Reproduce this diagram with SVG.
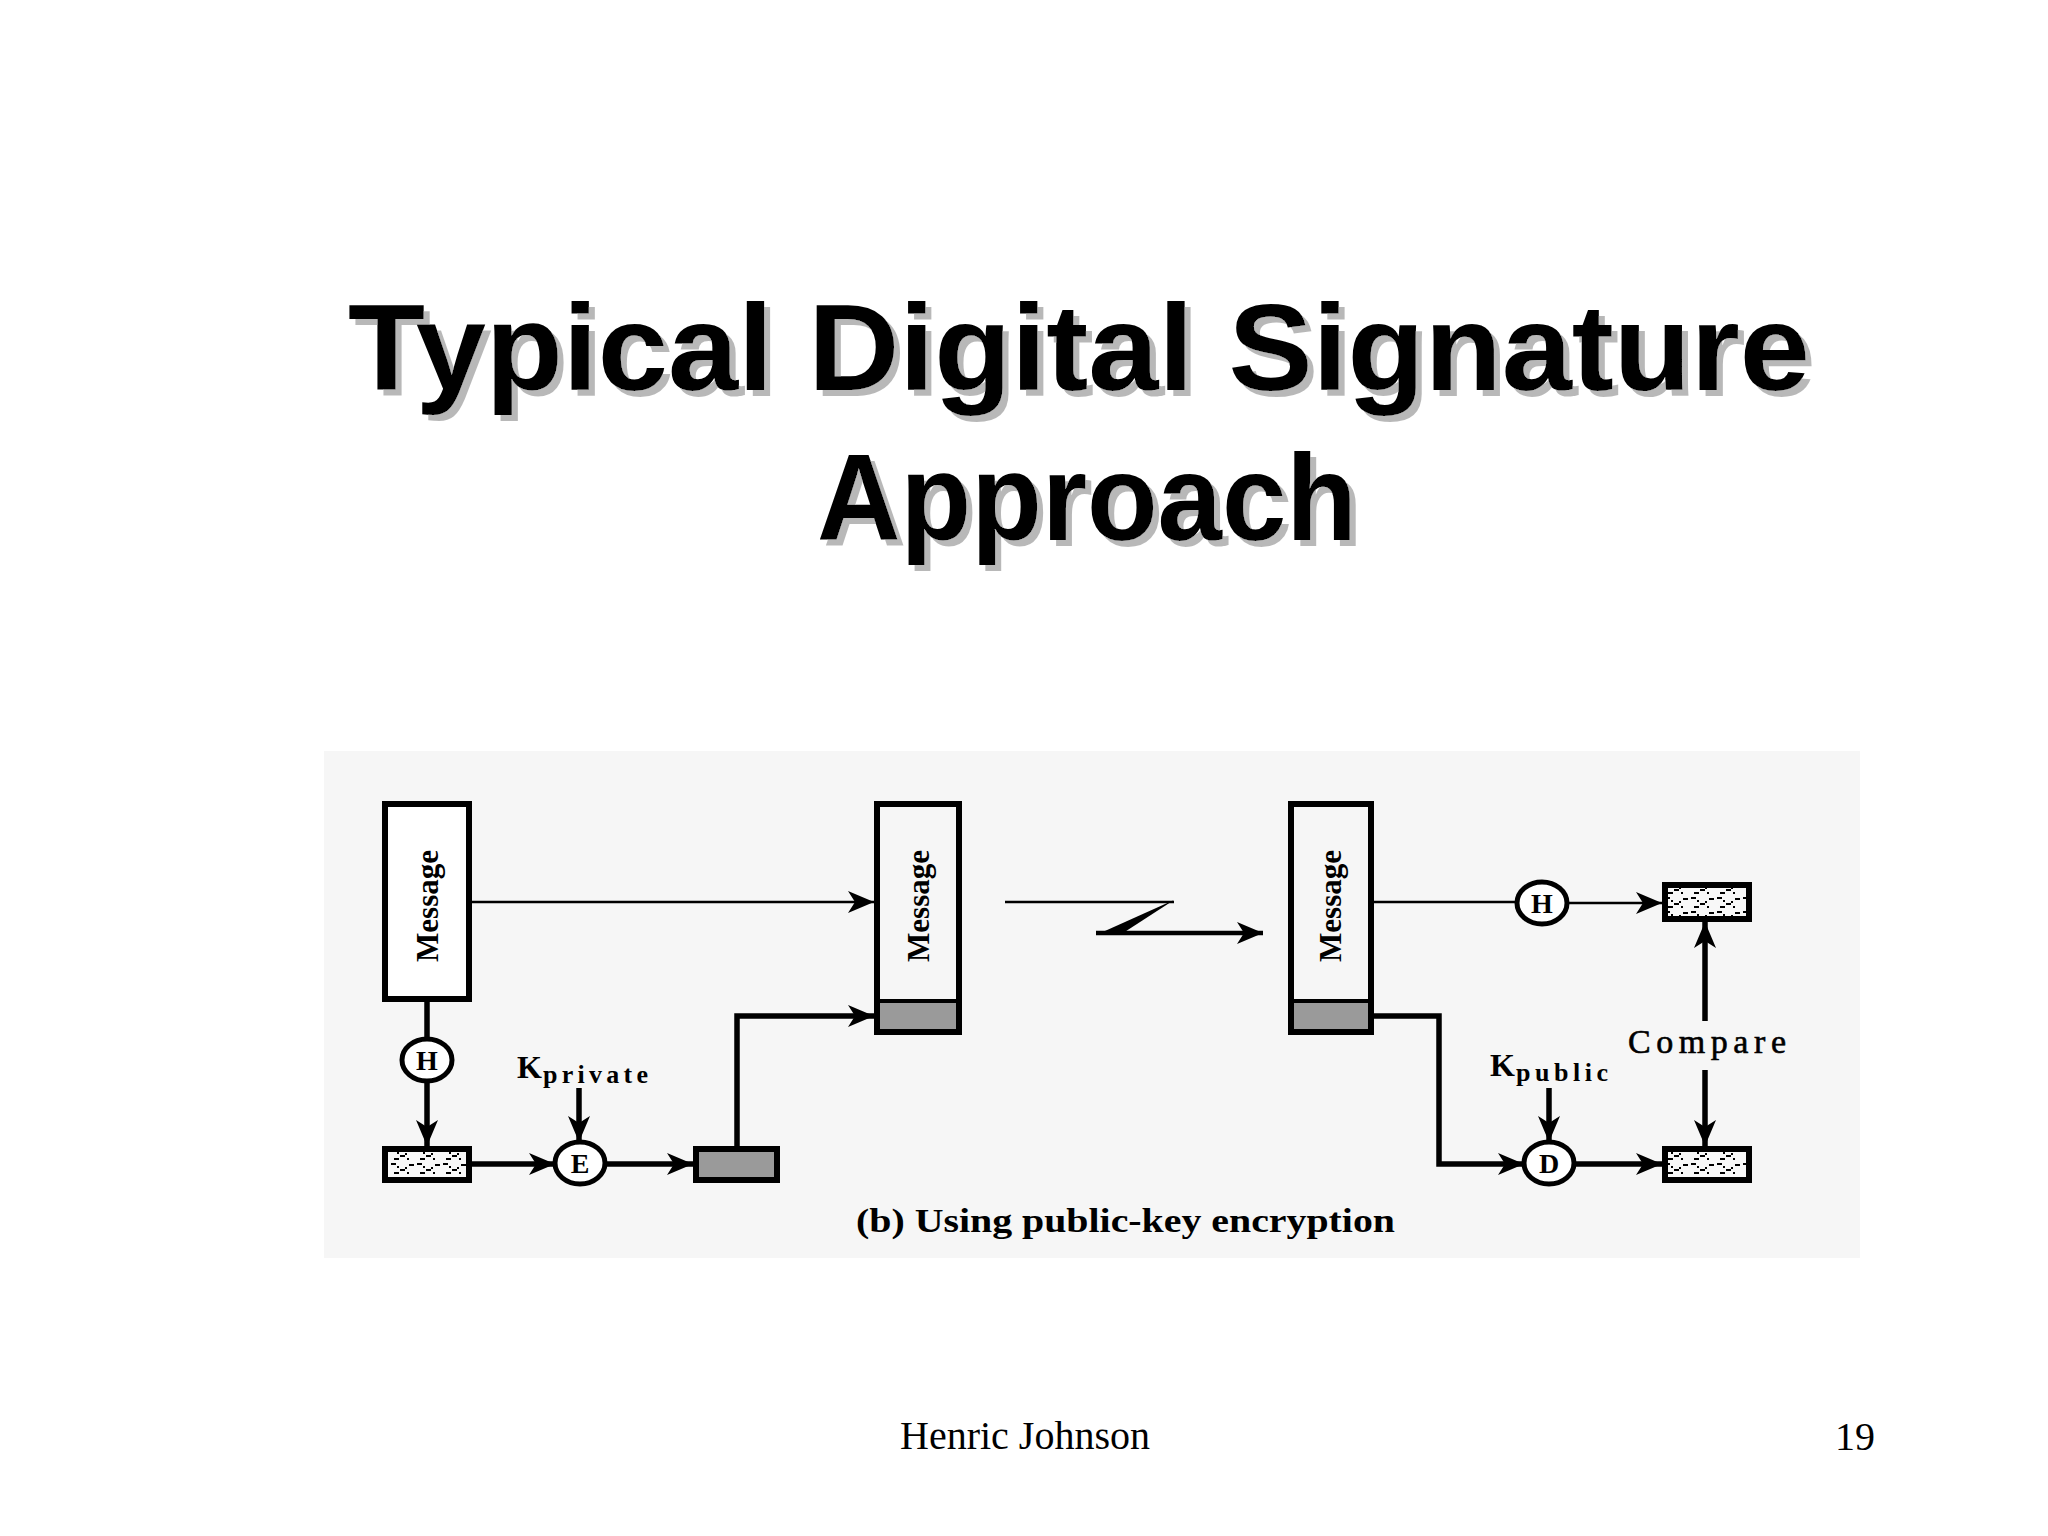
<svg xmlns="http://www.w3.org/2000/svg" width="2048" height="1536" viewBox="0 0 2048 1536">
<style>
.title{font-family:"Comic Sans MS","Liberation Sans",sans-serif;font-weight:bold;font-size:123px;fill:#000}
.box{fill:#fff;stroke:#000;stroke-width:6}
.gray{fill:#9a9a9a;stroke:#000;stroke-width:6}
.hash{fill:url(#hatch);stroke:#000;stroke-width:6}
.op{fill:#fff;stroke:#000;stroke-width:5}
.lbl{font-family:"Liberation Serif","Times New Roman",serif;font-weight:bold;fill:#000}
.thin{fill:none;stroke:#000;stroke-width:2.5}
.thick{fill:none;stroke:#000;stroke-width:5.5}
.foot{font-family:"Liberation Serif","Times New Roman",serif;font-size:40px;fill:#000}
</style>
<defs>
<filter id="drop" x="-5%" y="-10%" width="110%" height="130%">
<feOffset in="SourceAlpha" dx="6" dy="6" result="off"/>
<feFlood flood-color="#b8b8b8"/>
<feComposite in2="off" operator="in" result="sh"/>
<feMerge><feMergeNode in="sh"/><feMergeNode in="SourceGraphic"/></feMerge>
</filter>
<marker id="ah" markerUnits="userSpaceOnUse" markerWidth="26" markerHeight="24" refX="26" refY="12" orient="auto">
<path d="M0,1 L26,12 L0,23 L7,12 Z" fill="#000"/>
</marker>
<pattern id="hatch" patternUnits="userSpaceOnUse" width="26" height="14">
<rect width="26" height="14" fill="#f8f8f8"/>
<rect x="1" y="1" width="5" height="2" fill="#000"/>
<rect x="7" y="4" width="2" height="2" fill="#000"/>
<rect x="10" y="7" width="5" height="2" fill="#000"/>
<rect x="17" y="10" width="2" height="2" fill="#000"/>
<rect x="19" y="2" width="5" height="2" fill="#000"/>
<rect x="15" y="5" width="2" height="2" fill="#000"/>
<rect x="4" y="10" width="5" height="2" fill="#000"/>
</pattern>
</defs>
<rect width="2048" height="1536" fill="#fff"/>

<g id="title" filter="url(#drop)">
<text class="title" x="348" y="390" textLength="1462" lengthAdjust="spacingAndGlyphs">Typical Digital Signature</text>
<text class="title" x="817" y="540" textLength="540" lengthAdjust="spacingAndGlyphs">Approach</text>
</g>

<rect id="panel" x="324" y="751" width="1536" height="507" fill="#f6f6f6"/>

<g id="connectors">
<line class="thin" x1="472" y1="902" x2="874" y2="902" marker-end="url(#ah)"/>
<path class="thick" d="M737,1146 V1016 H874" marker-end="url(#ah)"/>
<line class="thick" x1="427" y1="1002" x2="427" y2="1040"/>
<line class="thick" x1="427" y1="1080" x2="427" y2="1146" marker-end="url(#ah)"/>
<line class="thick" x1="472" y1="1164" x2="555" y2="1164" marker-end="url(#ah)"/>
<line class="thick" x1="579" y1="1088" x2="579" y2="1142" marker-end="url(#ah)"/>
<line class="thick" x1="605" y1="1164" x2="693" y2="1164" marker-end="url(#ah)"/>
<line class="thin" x1="1005" y1="902" x2="1174" y2="902"/>
<path d="M1174,900 L1096,935 L1120,935 Z" fill="#000"/>
<line x1="1096" y1="933" x2="1263" y2="933" stroke="#000" stroke-width="4.5" marker-end="url(#ah)"/>
<line class="thin" x1="1374" y1="902" x2="1517" y2="902"/>
<line class="thin" x1="1567" y1="903" x2="1662" y2="903" marker-end="url(#ah)"/>
<line class="thick" x1="1705" y1="1021" x2="1705" y2="922" marker-end="url(#ah)"/>
<line class="thick" x1="1705" y1="1070" x2="1705" y2="1146" marker-end="url(#ah)"/>
<path class="thick" d="M1374,1016 H1439 V1164 H1524" marker-end="url(#ah)"/>
<line class="thick" x1="1549" y1="1088" x2="1549" y2="1142" marker-end="url(#ah)"/>
<line class="thick" x1="1574" y1="1164" x2="1662" y2="1164" marker-end="url(#ah)"/>
</g>

<g id="msg1">
<rect class="box" x="385" y="804" width="84" height="195"/>
<text class="lbl" font-size="32" text-anchor="middle" textLength="112" lengthAdjust="spacingAndGlyphs" transform="translate(438,906) rotate(-90)">Message</text>
</g>
<g id="hashOp1">
<ellipse class="op" cx="427" cy="1060" rx="25" ry="21"/>
<text class="lbl" font-size="28" x="427" y="1070" text-anchor="middle">H</text>
</g>
<g id="hash1"><rect class="hash" x="385" y="1149" width="84" height="31"/></g>
<g id="kprivate">
<text class="lbl" font-size="32" x="517" y="1078">K</text>
<text class="lbl" font-size="26" x="543" y="1083" textLength="105" lengthAdjust="spacing">private</text>
</g>
<g id="encrypt">
<ellipse class="op" cx="580" cy="1163" rx="25" ry="21"/>
<text class="lbl" font-size="28" x="580" y="1173" text-anchor="middle">E</text>
</g>
<g id="sig1"><rect class="gray" x="696" y="1149" width="81" height="31"/></g>
<g id="msg2">
<rect x="877" y="1001" width="82" height="31" fill="#9a9a9a"/>
<line x1="877" y1="1001" x2="959" y2="1001" stroke="#000" stroke-width="4"/>
<rect x="877" y="804" width="82" height="228" fill="none" stroke="#000" stroke-width="6"/>
<text class="lbl" font-size="32" text-anchor="middle" textLength="112" lengthAdjust="spacingAndGlyphs" transform="translate(929,906) rotate(-90)">Message</text>
</g>
<g id="msg3">
<rect x="1291" y="1001" width="80" height="31" fill="#9a9a9a"/>
<line x1="1291" y1="1001" x2="1371" y2="1001" stroke="#000" stroke-width="4"/>
<rect x="1291" y="804" width="80" height="228" fill="none" stroke="#000" stroke-width="6"/>
<text class="lbl" font-size="32" text-anchor="middle" textLength="112" lengthAdjust="spacingAndGlyphs" transform="translate(1341,906) rotate(-90)">Message</text>
</g>
<g id="hashOp2">
<ellipse class="op" cx="1542" cy="903" rx="25" ry="21"/>
<text class="lbl" font-size="28" x="1542" y="913" text-anchor="middle">H</text>
</g>
<g id="hash2"><rect class="hash" x="1665" y="885" width="84" height="34"/></g>
<g id="compare">
<text font-family="Liberation Serif, Times New Roman, serif" font-size="34" x="1628" y="1053" textLength="158" lengthAdjust="spacing" fill="#000" stroke="#000" stroke-width="0.6">Compare</text>
</g>
<g id="kpublic">
<text class="lbl" font-size="32" x="1490" y="1076">K</text>
<text class="lbl" font-size="26" x="1516" y="1081" textLength="92" lengthAdjust="spacing">public</text>
</g>
<g id="decrypt">
<ellipse class="op" cx="1549" cy="1163" rx="25" ry="21"/>
<text class="lbl" font-size="28" x="1549" y="1173" text-anchor="middle">D</text>
</g>
<g id="hash3"><rect class="hash" x="1665" y="1149" width="84" height="31"/></g>

<text id="caption" class="lbl" font-size="34" x="856" y="1232" textLength="539" lengthAdjust="spacingAndGlyphs">(b) Using public-key encryption</text>

<g id="footer">
<text class="foot" x="900" y="1449">Henric Johnson</text>
<text class="foot" x="1835" y="1450">19</text>
</g>
</svg>
